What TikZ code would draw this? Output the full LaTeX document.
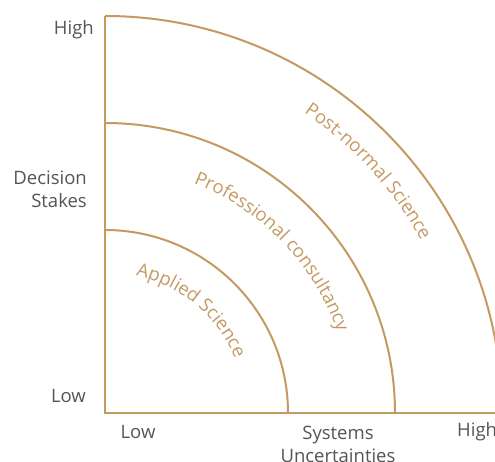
\documentclass[tikz,border=0pt]{standalone}
\usepackage{fontspec}
\setmainfont{Open Sans}
\usetikzlibrary{decorations.text}
\definecolor{tan}{RGB}{196,154,98}
\definecolor{lab}{RGB}{85,85,85}
\begin{document}
\begin{tikzpicture}[x=1pt,y=1pt,
  axisline/.style={draw=tan,line width=2.2pt},
  arcline/.style={draw=tan,line width=2pt},
  lbl/.style={text=lab,font=\fontsize{18.5}{23}\selectfont,inner sep=0pt},
  arctext/.style={decorate,decoration={text along path,text align=center,
     text color=tan}}]
\useasboundingbox (-105,-49) rectangle (390,413);
\clip (-105,-49) rectangle (390,413);
\coordinate (o) at (0,0);
\coordinate (ytop) at (0,397);
\coordinate (xend) at (400,0);
% arcs
\draw[arcline] (90:183) arc[start angle=90,end angle=0,radius=183];
\draw[arcline] (90:290) arc[start angle=90,end angle=0,radius=290];
\draw[arcline] (90:397) arc[start angle=90,end angle=0,radius=397];
% axes
\draw[axisline] (ytop) -- (o) -- (xend);
% curved labels
\path[arctext,decoration={text={|\fontsize{18.5}{18.5}\selectfont|Applied Science}}]
  (92:141) arc[start angle=92,end angle=8,radius=141];
\path[arctext,decoration={text={|\fontsize{18.5}{18.5}\selectfont|Professional consultancy}}]
  (88:246) arc[start angle=88,end angle=0,radius=246];
\path[arctext,decoration={text={|\fontsize{18.5}{18.5}\selectfont|Post-normal Science}}]
  (85:360) arc[start angle=85,end angle=0,radius=360];
% axis labels
\node[lbl,anchor=east] (yhigh) at (-11,383) {High};
\node[lbl,anchor=east,align=right] (ymid) at (-18,224) {Decision\\Stakes};
\node[lbl,anchor=east] (ylow) at (-19,17) {Low};
\node[lbl] (xlow) at (33,-19) {Low};
\node[lbl,align=center] (xmid) at (233,-31) {Systems\\Uncertainties};
\node[lbl,anchor=west] (xhigh) at (352,-19) {High};
\end{tikzpicture}
\end{document}
